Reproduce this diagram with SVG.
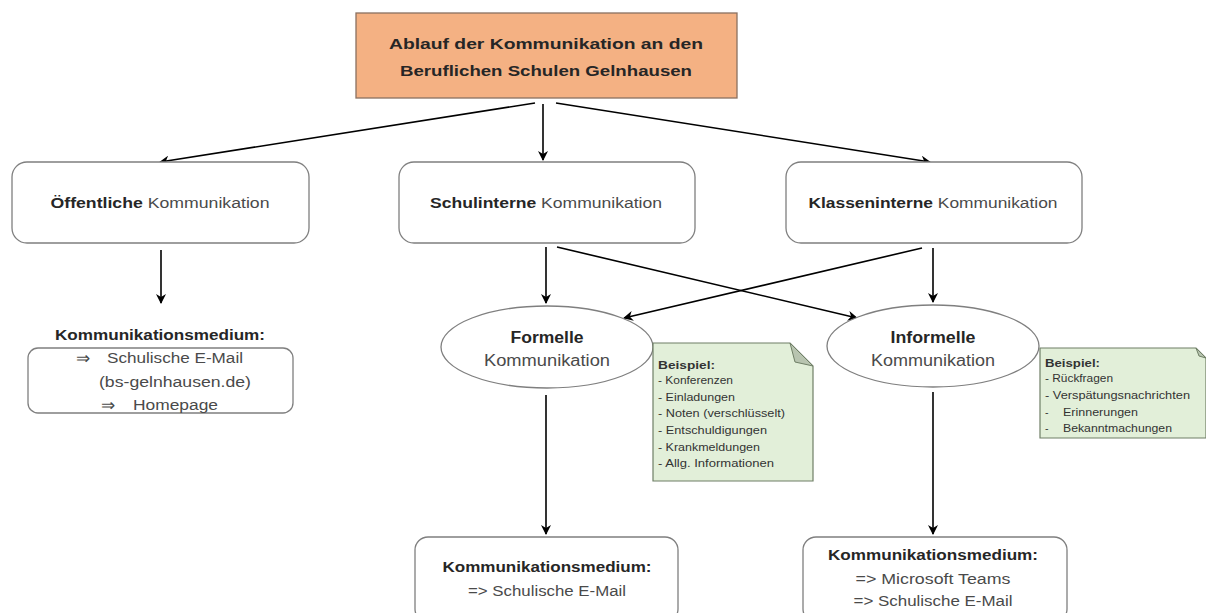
<svg xmlns="http://www.w3.org/2000/svg" width="1206" height="613" viewBox="0 0 1206 613">
<defs>
<marker id="ah" markerWidth="10" markerHeight="10" refX="9" refY="5" orient="auto" markerUnits="userSpaceOnUse">
<path d="M0,0 L10,5 L0,10 L3,5 Z" fill="#000"/>
</marker>
<style>
.box{fill:#fff;stroke:#7f7f7f;stroke-width:1.3}
.note{fill:#e2efd9;stroke:#6f7f66;stroke-width:1.2}
.fold{fill:#b8c4b0;stroke:#6f7f66;stroke-width:1}
.con{stroke:#000;stroke-width:1.6;fill:none;marker-end:url(#ah)}
text{font-family:"Liberation Sans",Arial,sans-serif}
.b{font-weight:bold;fill:#262626}
.r{fill:#4a4a4a}
.n{font-size:14px}
.s{font-size:10.5px;fill:#333}
.arr{font-size:17px;fill:#4a4a4a}
</style>
</defs>
<g id="connectors">
<line class="con" x1="535" y1="103" x2="160" y2="162"/>
<line class="con" x1="543" y1="104" x2="543" y2="160"/>
<line class="con" x1="556" y1="103" x2="930" y2="162"/>
<line class="con" x1="161" y1="250" x2="161" y2="303"/>
<line class="con" x1="546" y1="247" x2="546" y2="303"/>
<line class="con" x1="557" y1="247" x2="857" y2="318"/>
<line class="con" x1="922" y1="248" x2="624" y2="318"/>
<line class="con" x1="933" y1="248" x2="933" y2="302"/>
<line class="con" x1="546" y1="395" x2="546" y2="534"/>
<line class="con" x1="933" y1="392" x2="933" y2="534"/>
</g>
<g id="title">
<rect x="356" y="13" width="381" height="85" fill="#f4b183" stroke="#8a7060" stroke-width="1.3"/>
<text x="546" y="49" text-anchor="middle" class="b" font-size="15.5" textLength="314" lengthAdjust="spacingAndGlyphs">Ablauf der Kommunikation  an den</text>
<text x="546" y="76" text-anchor="middle" class="b" font-size="15.5" textLength="292" lengthAdjust="spacingAndGlyphs">Beruflichen Schulen  Gelnhausen</text>
</g>
<g id="oeffentlich">
<rect class="box" x="12" y="162" width="297" height="81" rx="15"/>
<text x="160" y="208" text-anchor="middle" class="n" textLength="219" lengthAdjust="spacingAndGlyphs"><tspan class="b">Öffentliche</tspan><tspan class="r"> Kommunikation</tspan></text>
</g>
<g id="schulintern">
<rect class="box" x="399" y="162" width="296" height="81" rx="15"/>
<text x="546" y="208" text-anchor="middle" class="n" textLength="232" lengthAdjust="spacingAndGlyphs"><tspan class="b">Schulinterne</tspan><tspan class="r"> Kommunikation</tspan></text>
</g>
<g id="klassenintern">
<rect class="box" x="786" y="162" width="296" height="81" rx="15"/>
<text x="933" y="208" text-anchor="middle" class="n" textLength="249" lengthAdjust="spacingAndGlyphs"><tspan class="b">Klasseninterne</tspan><tspan class="r"> Kommunikation</tspan></text>
</g>
<g id="medium-oeffentlich">
<text x="160" y="340" text-anchor="middle" class="b n" textLength="210" lengthAdjust="spacingAndGlyphs">Kommunikationsmedium:</text>
<rect class="box" x="28" y="348" width="265" height="65" rx="10"/>
<text x="76" y="364" class="arr">⇒</text>
<text x="107" y="363" class="r n" textLength="136" lengthAdjust="spacingAndGlyphs">Schulische E-Mail</text>
<text x="99" y="387" class="r n" textLength="152" lengthAdjust="spacingAndGlyphs">(bs-gelnhausen.de)</text>
<text x="101" y="411" class="arr">⇒</text>
<text x="133" y="410" class="r n" textLength="85" lengthAdjust="spacingAndGlyphs">Homepage</text>
</g>
<g id="formell">
<ellipse class="box" cx="547" cy="347" rx="106" ry="41"/>
<text x="547" y="343" text-anchor="middle" class="b" font-size="16" textLength="73" lengthAdjust="spacingAndGlyphs">Formelle</text>
<text x="547" y="366" text-anchor="middle" class="r" font-size="16" textLength="126" lengthAdjust="spacingAndGlyphs">Kommunikation</text>
</g>
<g id="informell">
<ellipse class="box" cx="933" cy="346" rx="106" ry="41"/>
<text x="933" y="343" text-anchor="middle" class="b" font-size="16" textLength="85" lengthAdjust="spacingAndGlyphs">Informelle</text>
<text x="933" y="366" text-anchor="middle" class="r" font-size="16" textLength="124" lengthAdjust="spacingAndGlyphs">Kommunikation</text>
</g>
<g id="note-formell">
<path class="note" d="M653,343 L790,343 L813,366 L813,481 L653,481 Z"/>
<path class="fold" d="M790,343 L795,362 L813,366 Z"/>
<text x="658" y="369" class="s b" textLength="57" lengthAdjust="spacingAndGlyphs">Beispiel:</text>
<text x="658" y="384" class="s" textLength="75" lengthAdjust="spacingAndGlyphs">- Konferenzen</text>
<text x="658" y="401" class="s" textLength="77" lengthAdjust="spacingAndGlyphs">- Einladungen</text>
<text x="658" y="417" class="s" textLength="127" lengthAdjust="spacingAndGlyphs">- Noten  (verschlüsselt)</text>
<text x="658" y="434" class="s" textLength="109" lengthAdjust="spacingAndGlyphs">- Entschuldigungen</text>
<text x="658" y="451" class="s" textLength="102" lengthAdjust="spacingAndGlyphs">- Krankmeldungen</text>
<text x="658" y="467" class="s" textLength="116" lengthAdjust="spacingAndGlyphs">- Allg. Informationen</text>
</g>
<g id="note-informell">
<path class="note" d="M1040,348 L1196,348 L1206,358 L1206,438 L1040,438 Z"/>
<path class="fold" d="M1196,348 L1199,356 L1206,358 Z"/>
<text x="1045" y="367" class="s b" textLength="55" lengthAdjust="spacingAndGlyphs">Beispiel:</text>
<text x="1045" y="382" class="s" textLength="68" lengthAdjust="spacingAndGlyphs">- Rückfragen</text>
<text x="1045" y="399" class="s" textLength="145" lengthAdjust="spacingAndGlyphs">- Verspätungsnachrichten</text>
<text x="1045" y="416" class="s">-<tspan x="1063" textLength="75" lengthAdjust="spacingAndGlyphs">Erinnerungen</tspan></text>
<text x="1045" y="432" class="s">-<tspan x="1063" textLength="109" lengthAdjust="spacingAndGlyphs">Bekanntmachungen</tspan></text>
</g>
<g id="medium-formell">
<rect class="box" x="415" y="537" width="263" height="85" rx="13"/>
<text x="547" y="572" text-anchor="middle" class="b n" textLength="209" lengthAdjust="spacingAndGlyphs">Kommunikationsmedium:</text>
<text x="547" y="596" text-anchor="middle" class="r n" textLength="158" lengthAdjust="spacingAndGlyphs">=&gt; Schulische E-Mail</text>
</g>
<g id="medium-informell">
<rect class="box" x="803" y="537" width="264" height="85" rx="13"/>
<text x="933" y="560" text-anchor="middle" class="b n" textLength="210" lengthAdjust="spacingAndGlyphs">Kommunikationsmedium:</text>
<text x="933" y="584" text-anchor="middle" class="r n" textLength="155" lengthAdjust="spacingAndGlyphs">=&gt; Microsoft Teams</text>
<text x="933" y="606" text-anchor="middle" class="r n" textLength="159" lengthAdjust="spacingAndGlyphs">=&gt; Schulische E-Mail</text>
</g>
</svg>
